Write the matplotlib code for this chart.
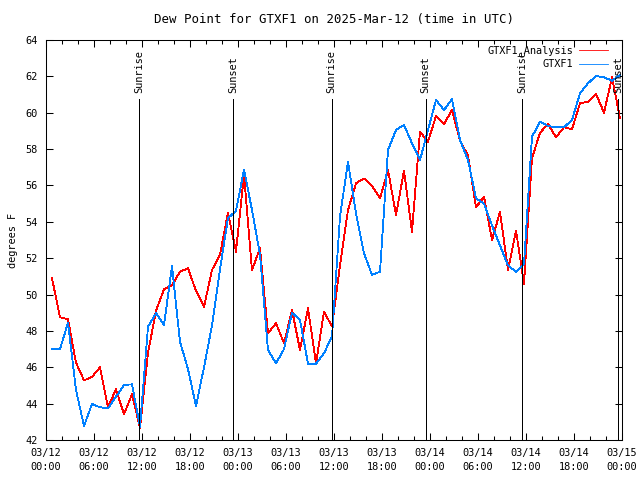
import matplotlib
matplotlib.use('Agg')
import matplotlib.pyplot as plt
import matplotlib.dates as mdates
import pandas as pd

# data (hourly obs, times in UTC)
times = pd.date_range('2025-03-12 00:45', periods=72, freq='h')

analysis = [50.9, 48.75, 48.64, 46.25, 45.28, 45.47, 46.0, 43.8, 44.79, 43.41, 44.51, 42.66,
            46.8, 49.1, 50.3, 50.5, 51.26, 51.44, 50.2, 49.33, 51.35, 52.2, 54.5, 52.36,
            56.6, 51.35, 52.54, 47.87, 48.42, 47.32, 49.15, 46.95, 49.24, 46.22, 49.06, 48.24,
            51.6, 54.65, 56.12, 56.39, 55.97, 55.3, 56.85, 54.38, 56.81, 53.46, 58.96, 58.4,
            59.82, 59.38, 60.15, 58.45, 57.65, 54.8, 55.38, 53.0, 54.54, 51.35, 53.52, 50.6,
            57.5, 58.9, 59.38, 58.65, 59.2, 59.09, 60.52, 60.6, 61.03, 60.0, 61.95, 59.7]

obs = [47.0, 47.0, 48.45, 44.75, 42.77, 43.98, 43.8, 43.74, 44.38, 45.03, 45.06, 42.73,
       48.23, 48.97, 48.33, 51.55, 47.4, 45.9, 43.87, 46.0, 48.3, 51.4, 54.2, 54.6,
       56.87, 54.65, 52.2, 46.95, 46.22, 47.0, 49.0, 48.6, 46.2, 46.2, 46.77, 47.7,
       54.3, 57.3, 54.47, 52.27, 51.08, 51.26, 57.95, 59.05, 59.33, 58.32, 57.4, 59.05,
       60.7, 60.15, 60.74, 58.5, 57.4, 55.3, 55.0, 53.8, 52.7, 51.6, 51.25, 51.7,
       58.68, 59.5, 59.27, 59.2, 59.2, 59.6, 61.07, 61.62, 62.02, 61.95, 61.76, 62.07]

sun_times = pd.to_datetime(['2025-03-12 11:40', '2025-03-12 23:25', '2025-03-13 11:43',
                            '2025-03-13 23:28', '2025-03-14 11:32', '2025-03-14 23:32'])
sun_labels = ['Sunrise', 'Sunset', 'Sunrise', 'Sunset', 'Sunrise', 'Sunset']

plt.rcParams['font.family'] = ['DejaVu Sans Mono']
plt.rcParams['font.size'] = 7.4

fig = plt.figure(figsize=(6.4, 4.8), dpi=100)
ax = fig.add_axes([46 / 640, 40 / 480, 576 / 640, 400 / 480])

# thin, non-antialiased lines to look like the gnuplot png
ax.plot(times, analysis, color='#ff0000', lw=0.6, label='GTXF1_Analysis', antialiased=False)
ax.plot(times, obs, color='#0080ff', lw=0.6, label='GTXF1', antialiased=False)

# sunrise / sunset markers
ax.vlines(sun_times, 42, 60.75, color='black', lw=0.6, antialiased=False)
for t, lab in zip(sun_times, sun_labels):
    ax.text(t, 61.1, lab, rotation=90, ha='center', va='bottom')

ax.set_xlim(pd.Timestamp('2025-03-12 00:00'), pd.Timestamp('2025-03-15 00:00'))
ax.set_ylim(42, 64)
ax.set_yticks(range(42, 65, 2))
ax.xaxis.set_major_locator(mdates.HourLocator(byhour=[0, 6, 12, 18]))
ax.xaxis.set_minor_locator(mdates.HourLocator(byhour=range(0, 24, 2)))
ax.xaxis.set_major_formatter(mdates.DateFormatter('%m/%d\n%H:%M'))
ax.tick_params(which='both', direction='in', top=True, right=True, width=0.75)
ax.tick_params(which='major', length=5)
ax.tick_params(which='minor', length=3)
ax.tick_params(axis='x', which='major', pad=6)
ax.tick_params(axis='y', pad=6)
for s in ax.spines.values():
    s.set_linewidth(0.75)

ax.set_title('Dew Point for GTXF1 on 2025-Mar-12 (time in UTC)', pad=12)
ax.set_ylabel('degrees F', labelpad=5)

ax.legend(loc='upper right', bbox_to_anchor=(0.985, 1.0), frameon=False, markerfirst=False,
          handlelength=2.8, handletextpad=0.6, labelspacing=0.3, borderaxespad=0.3,
          borderpad=0.2)

fig.canvas.draw()
plt.setp(ax.get_xticklabels(), linespacing=1.5)

fig.savefig('out.png', dpi=100)
